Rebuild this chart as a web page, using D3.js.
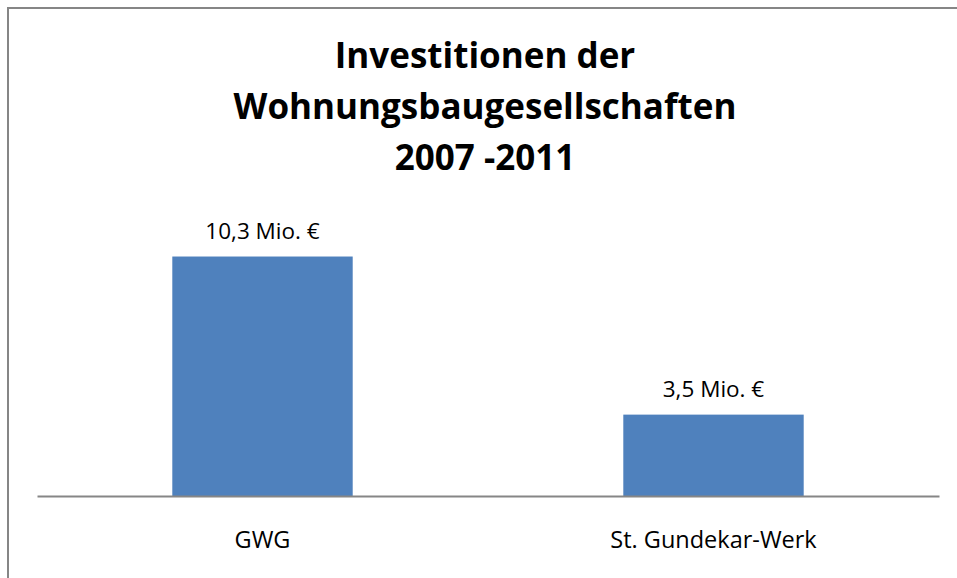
<!DOCTYPE html>
<html>
<head>
<meta charset="utf-8">
<script src="https://cdn.jsdelivr.net/npm/d3@7"></script>
<style>
  body { margin: 0; background: #fff; }
  text { font-family: "Open Sans", sans-serif; fill: #000; }
</style>
</head>
<body>
<div id="chart"></div>
<script>
var categories = ["GWG", "St. Gundekar-Werk"];
var values = [10.3, 3.5];
var valueLabels = ["10,3 Mio. €", "3,5 Mio. €"];
var titleLines = ["Investitionen der", "Wohnungsbaugesellschaften", "2007 -2011"];

var width = 957, height = 578;
var plot = {left: 37, right: 939, bottom: 496, top: 217};

var svg = d3.select("#chart").append("svg")
    .attr("width", width)
    .attr("height", height);

// outer frame
svg.append("rect")
    .attr("x", 8)
    .attr("y", 8)
    .attr("width", 960)
    .attr("height", 600)
    .attr("fill", "#fff")
    .attr("stroke", "#868686")
    .attr("stroke-width", 2);

var x = d3.scaleBand()
    .domain(categories)
    .range([plot.left, plot.right])
    .paddingInner(0.6)
    .paddingOuter(0.3);

var y = d3.scaleLinear()
    .domain([0, 12])
    .range([plot.bottom, plot.top]);

// title
svg.append("text")
    .attr("text-anchor", "middle")
    .style("font-weight", "bold")
    .style("font-size", "35px")
    .selectAll("tspan")
    .data(titleLines)
    .enter().append("tspan")
    .attr("x", 485)
    .attr("y", function (d, i) { return 68 + i * 51; })
    .text(function (d) { return d; });

// bars
svg.selectAll(".bar")
    .data(values)
    .enter().append("rect")
    .attr("class", "bar")
    .attr("x", function (d, i) { return x(categories[i]); })
    .attr("y", function (d) { return y(d); })
    .attr("width", x.bandwidth())
    .attr("height", function (d) { return y(0) - y(d); })
    .attr("fill", "#4F81BD");

// data labels
svg.selectAll(".label")
    .data(values)
    .enter().append("text")
    .attr("class", "label")
    .attr("x", function (d, i) { return x(categories[i]) + x.bandwidth() / 2; })
    .attr("y", function (d) { return y(d) - 18; })
    .attr("text-anchor", "middle")
    .style("font-size", "22.5px")
    .text(function (d, i) { return valueLabels[i]; });

// x axis
var xAxis = svg.append("g")
    .attr("transform", "translate(0," + plot.bottom + ")")
    .call(d3.axisBottom(x).tickSize(0).tickPadding(0));
xAxis.select(".domain")
    .attr("stroke", "#868686")
    .attr("stroke-width", 2);
xAxis.selectAll(".tick text")
    .attr("dy", 0)
    .attr("y", 52)
    .style("font-size", "23.5px")
    .style("font-family", "'Open Sans', sans-serif")
    .attr("fill", "#000");
</script>
</body>
</html>
